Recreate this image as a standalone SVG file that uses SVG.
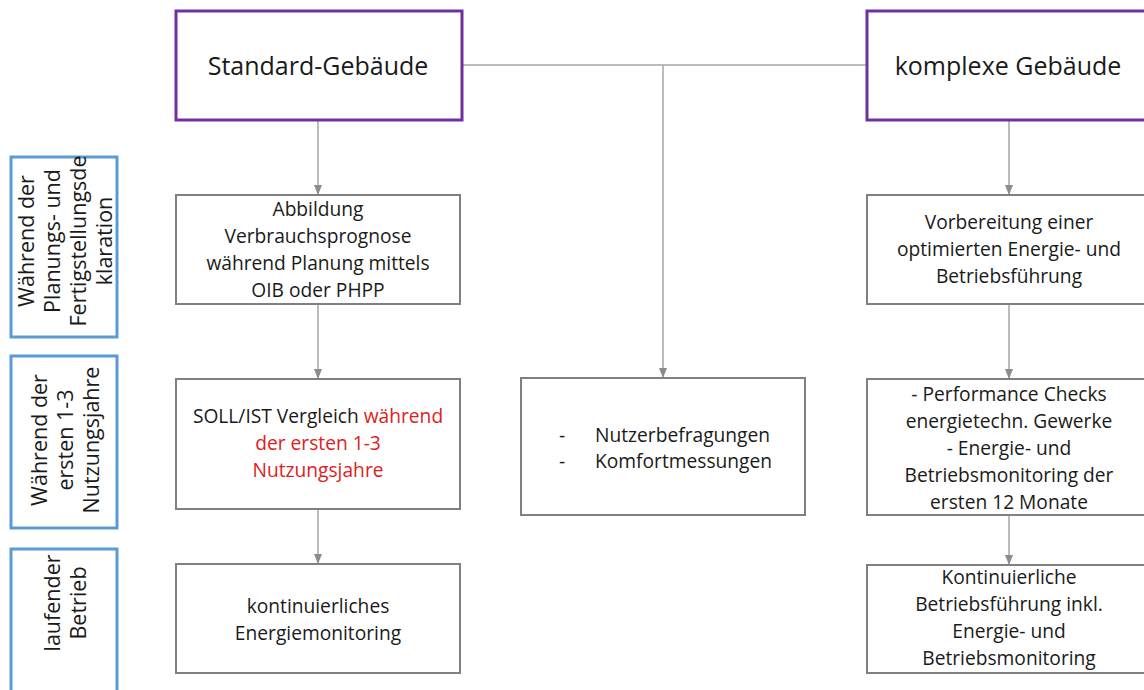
<svg xmlns="http://www.w3.org/2000/svg" width="1144" height="690" viewBox="0 0 1144 690">
<defs>
<marker id="arr" markerWidth="10" markerHeight="8" refX="9" refY="4" orient="auto" markerUnits="userSpaceOnUse">
<path d="M0,0 L10,4 L0,8 Z" fill="#8C8C8C"/>
</marker>
<style>
.t{font-family:"Open Sans","Liberation Sans",Arial,sans-serif;font-size:19.2px;fill:#1a1a1a;text-anchor:middle}
.p{font-family:"Open Sans","Liberation Sans",Arial,sans-serif;font-size:21.5px;fill:#1a1a1a;text-anchor:middle}
.h{font-family:"Open Sans","Liberation Sans",Arial,sans-serif;font-size:25px;fill:#1a1a1a;text-anchor:middle}
.phase{fill:#fff;stroke:#5B9BD5;stroke-width:3}
.head{fill:#fff;stroke:#7030A0;stroke-width:3}
.box{fill:#fff;stroke:#808080;stroke-width:2}
.c{fill:none;stroke:#A6A6A6;stroke-width:1.5}
.red{fill:#E0201B}
</style>
</defs>
<rect width="1144" height="690" fill="#fff"/>
<g id="phase1"><rect class="phase" x="11" y="157" width="106" height="180"/>
<g transform="translate(63,241) rotate(-90)"><text class="p" x="0" y="-29">Während der</text><text class="p" x="0" y="-3">Planungs- und</text><text class="p" x="0" y="23">Fertigstellungsde</text><text class="p" x="0" y="49">klaration</text></g></g>
<g id="phase2"><rect class="phase" x="11" y="356" width="106" height="172"/>
<g transform="translate(63,440) rotate(-90)"><text class="p" x="0" y="-16">Während der</text><text class="p" x="0" y="10">ersten 1-3</text><text class="p" x="0" y="36">Nutzungsjahre</text></g></g>
<g id="phase3"><rect class="phase" x="11" y="549" width="106" height="150"/>
<g transform="translate(63,603) rotate(-90)"><text class="p" x="0" y="-3">laufender</text><text class="p" x="0" y="23">Betrieb</text></g></g>
<g id="connectors">
<line class="c" x1="462" y1="65" x2="866" y2="65"/>
<line class="c" x1="663" y1="65" x2="663" y2="377" marker-end="url(#arr)"/>
<line class="c" x1="318" y1="121" x2="318" y2="194" marker-end="url(#arr)"/>
<line class="c" x1="318" y1="304" x2="318" y2="378" marker-end="url(#arr)"/>
<line class="c" x1="318" y1="509" x2="318" y2="563" marker-end="url(#arr)"/>
<line class="c" x1="1009" y1="121" x2="1009" y2="194" marker-end="url(#arr)"/>
<line class="c" x1="1009" y1="304" x2="1009" y2="378" marker-end="url(#arr)"/>
<line class="c" x1="1009" y1="515" x2="1009" y2="564" marker-end="url(#arr)"/>
</g>
<g id="std"><rect class="head" x="176" y="11" width="286" height="109"/><text class="h" x="318" y="75">Standard-Gebäude</text></g>
<g id="komplex"><rect class="head" x="867" y="11" width="290" height="109"/><text class="h" x="1008" y="75">komplexe Gebäude</text></g>
<g id="abbildung"><rect class="box" x="176" y="195" width="284" height="109"/>
<text class="t" x="318" y="216">Abbildung</text><text class="t" x="318" y="243">Verbrauchsprognose</text><text class="t" x="318" y="270">während Planung mittels</text><text class="t" x="318" y="297">OIB oder PHPP</text></g>
<g id="soll"><rect class="box" x="176" y="379" width="284" height="130"/>
<text class="t" x="318" y="423">SOLL/IST Vergleich <tspan class="red">während</tspan></text><text class="t red" x="318" y="450">der ersten 1-3</text><text class="t red" x="318" y="477">Nutzungsjahre</text></g>
<g id="kontstd"><rect class="box" x="176" y="564" width="284" height="109"/>
<text class="t" x="318" y="613">kontinuierliches</text><text class="t" x="318" y="640">Energiemonitoring</text></g>
<g id="nutzer"><rect class="box" x="521" y="378" width="284" height="137"/>
<text class="t" x="562" y="442">-</text><text class="t" x="562" y="468">-</text>
<text class="t" x="595" y="442" style="text-anchor:start">Nutzerbefragungen</text><text class="t" x="595" y="468" style="text-anchor:start">Komfortmessungen</text></g>
<g id="vorb"><rect class="box" x="867" y="195" width="290" height="109"/>
<text class="t" x="1009" y="229">Vorbereitung einer</text><text class="t" x="1009" y="256">optimierten Energie- und</text><text class="t" x="1009" y="283">Betriebsführung</text></g>
<g id="perf"><rect class="box" x="867" y="379" width="290" height="136"/>
<text class="t" x="1009" y="401">- Performance Checks</text><text class="t" x="1009" y="428">energietechn. Gewerke</text><text class="t" x="1009" y="455">- Energie- und</text><text class="t" x="1009" y="482">Betriebsmonitoring der</text><text class="t" x="1009" y="509">ersten 12 Monate</text></g>
<g id="kontkomp"><rect class="box" x="867" y="565" width="290" height="108"/>
<text class="t" x="1009" y="584">Kontinuierliche</text><text class="t" x="1009" y="611">Betriebsführung inkl.</text><text class="t" x="1009" y="638">Energie- und</text><text class="t" x="1009" y="665">Betriebsmonitoring</text></g>
</svg>
